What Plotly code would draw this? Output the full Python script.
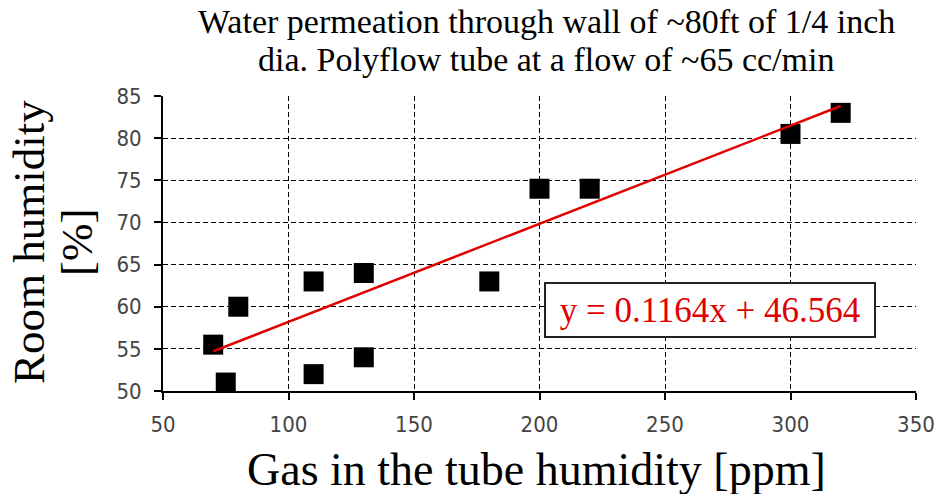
import plotly.graph_objects as go

# ---- data ----
gas_ppm = [70, 75, 80, 110, 110, 130, 130, 180, 200, 220, 300, 320]
room_rh = [55.5, 51, 60, 63, 52, 64, 54, 63, 74, 74, 80.5, 83]
fit_slope = 0.1164
fit_intercept = 46.564
fit_x = [70, 320]
x_ticks = [50, 100, 150, 200, 250, 300, 350]
y_ticks = [50, 55, 60, 65, 70, 75, 80, 85]

title_lines = ["Water permeation through wall of ~80ft of 1/4 inch",
               "dia. Polyflow tube at a flow of ~65 cc/min"]
x_title = "Gas in the tube humidity [ppm]"
y_title_lines = ["Room humidity", "[%]"]
eq_text = "y = 0.1164x + 46.564"

fit_y = [fit_slope * v + fit_intercept for v in fit_x]

W, H = 937, 494
L, R, T, B = 163, 21, 96, 103
PW, PH = W - L - R, H - T - B


def px(xp):
    return (xp - L) / PW


def py(yp):
    return (H - B - yp) / PH


serif = "Liberation Serif, Times New Roman, serif"
sans = "DejaVu Sans Condensed, Liberation Sans Narrow, DejaVu Sans, sans-serif"

fig = go.Figure()
fig.add_trace(go.Scatter(
    x=gas_ppm, y=room_rh, mode="markers",
    marker=dict(symbol="square", size=20, color="black"),
    showlegend=False, hoverinfo="x+y"))
fig.add_trace(go.Scatter(
    x=fit_x, y=fit_y, mode="lines",
    line=dict(color="#e00000", width=2.5),
    showlegend=False))

axis_common = dict(
    showgrid=True, gridcolor="black", gridwidth=1, griddash="5px,3px",
    showline=True, linecolor="black", linewidth=2, mirror=False,
    ticks="outside", ticklen=7, tickcolor="black", tickwidth=1.5,
    tickfont=dict(family=sans, size=22, color="#444"),
    zeroline=False,
)

fig.update_xaxes(range=[50, 350], tickvals=x_ticks, ticklabelstandoff=6, **axis_common)
fig.update_yaxes(range=[50, 85], tickvals=y_ticks, ticklabelstandoff=8, **axis_common)

ann = []
ann.append(dict(text=title_lines[0], x=px(546), y=py(21), xref="paper", yref="paper",
                xanchor="center", yanchor="middle", showarrow=False,
                font=dict(family=serif, size=34, color="black")))
ann.append(dict(text=title_lines[1], x=px(546), y=py(60), xref="paper", yref="paper",
                xanchor="center", yanchor="middle", showarrow=False,
                font=dict(family=serif, size=34, color="black")))
ann.append(dict(text=x_title, x=px(536), y=py(469), xref="paper", yref="paper",
                xanchor="center", yanchor="middle", showarrow=False,
                font=dict(family=serif, size=46, color="black")))
ann.append(dict(text=y_title_lines[0], x=px(29), y=py(242), xref="paper", yref="paper",
                xanchor="center", yanchor="middle", showarrow=False, textangle=-90,
                font=dict(family=serif, size=45, color="black")))
ann.append(dict(text=y_title_lines[1], x=px(77), y=py(243), xref="paper", yref="paper",
                xanchor="center", yanchor="middle", showarrow=False, textangle=-90,
                font=dict(family=serif, size=45, color="black")))
ann.append(dict(text=eq_text, x=px(710), y=py(310), xref="paper", yref="paper",
                xanchor="center", yanchor="middle", showarrow=False,
                font=dict(family=serif, size=35, color="#e00000"),
                bgcolor="white", bordercolor="#222", borderwidth=2, borderpad=4,
                width=320, height=44))

fig.update_layout(
    width=W, height=H,
    margin=dict(l=L, r=R, t=T, b=B, autoexpand=False),
    paper_bgcolor="white", plot_bgcolor="white",
    annotations=ann,
)

fig.write_html("out.html", config={"displayModeBar": False},
               post_script="document.body.style.margin='0';document.body.style.overflow='hidden';")
